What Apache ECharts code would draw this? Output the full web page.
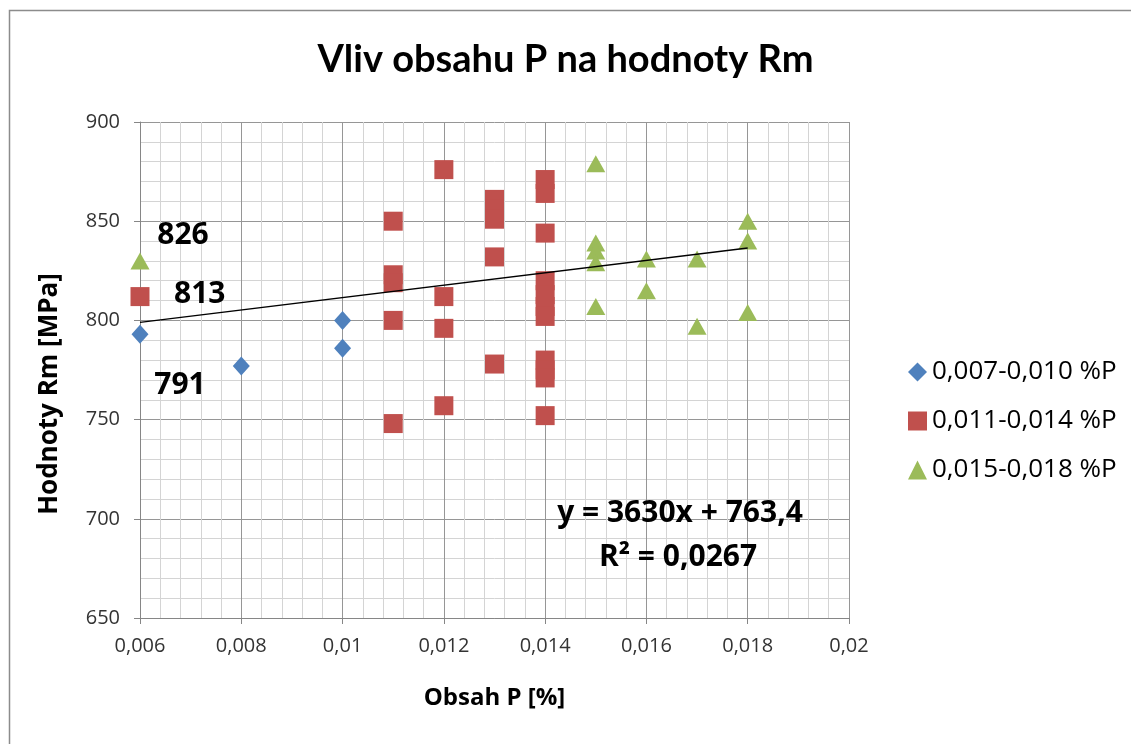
<!DOCTYPE html>
<html>
<head>
<meta charset="utf-8">
<script src="https://cdn.jsdelivr.net/npm/echarts@6/dist/echarts.min.js"></script>
<style>
  html, body { margin: 0; padding: 0; background: #fff; }
  #chart { width: 1131px; height: 744px; }
</style>
</head>
<body>
<div id="chart"></div>
<script>
// data
const blueX = [0.006, 0.008, 0.01, 0.01];
const blueY = [793, 777, 800, 786];

const redX = [0.006, 0.011, 0.011, 0.011, 0.011, 0.011, 0.012, 0.012, 0.012, 0.012,
  0.013, 0.013, 0.013, 0.013, 0.013, 0.014, 0.014, 0.014, 0.014, 0.014, 0.014, 0.014,
  0.014, 0.014, 0.014, 0.014];
const redY = [812, 850, 823, 819, 800, 748, 876, 812, 796, 757,
  861, 856, 851, 832, 778, 871, 864, 844, 820, 813, 807, 802,
  780, 775, 771, 752];

const greenX = [0.006, 0.015, 0.015, 0.015, 0.015, 0.015, 0.016, 0.016, 0.017, 0.017, 0.018, 0.018, 0.018];
const greenY = [830, 879, 839, 835, 829, 807, 831, 815, 831, 797, 850, 840, 804];

const trendX = [0.006, 0.018];
const trendY = [799, 836.5];

const seriesNames = ['0,007-0,010 %P', '0,011-0,014 %P', '0,015-0,018 %P'];

// value labels near the left edge
const noteX = [0.00685, 0.00718, 0.00679];
const noteY = [843, 813, 767];
const noteText = ['826', '813', '791'];

const xTicks = { min: 0.006, max: 0.02, interval: 0.002 };
const yTicks = { min: 650, max: 900, interval: 50 };

const pairs = (xs, ys) => xs.map((x, i) => [x, ys[i]]);
const comma = v => String(+v.toFixed(4)).replace('.', ',');

let myChart = echarts.init(document.getElementById('chart'));
myChart.setOption({
  animation: false,
  title: {
    text: 'Vliv obsahu P na hodnoty Rm',
    left: 'center',
    top: 36,
    textStyle: { fontFamily: 'Lato', fontSize: 38, fontWeight: 'bold', color: '#000' }
  },
  grid: { left: 140, right: 282, top: 122, bottom: 126 },
  legend: {
    orient: 'vertical',
    left: 903,
    top: 354,
    itemGap: 23,
    itemWidth: 19,
    itemHeight: 19,
    textStyle: { fontFamily: 'Open Sans', fontSize: 26, color: '#000' },
    data: seriesNames
  },
  xAxis: {
    type: 'value',
    min: xTicks.min,
    max: xTicks.max,
    interval: xTicks.interval,
    name: 'Obsah P [%]',
    nameLocation: 'middle',
    nameGap: 68,
    nameTextStyle: { fontFamily: 'Open Sans', fontSize: 24, fontWeight: 'bold', color: '#000' },
    axisLine: { show: true, lineStyle: { color: '#868686' } },
    axisTick: { show: true, length: 6, lineStyle: { color: '#868686' } },
    axisLabel: { formatter: comma, fontFamily: 'Open Sans', fontSize: 20, color: '#333', margin: 18 },
    splitLine: { lineStyle: { color: '#969696' } },
    minorTick: { show: false, splitNumber: 5 },
    minorSplitLine: { show: true, lineStyle: { color: '#d4d4d4' } }
  },
  yAxis: {
    type: 'value',
    min: yTicks.min,
    max: yTicks.max,
    interval: yTicks.interval,
    axisLine: { show: true, lineStyle: { color: '#868686' } },
    axisTick: { show: true, length: 6, lineStyle: { color: '#868686' } },
    axisLabel: { fontFamily: 'Open Sans', fontSize: 20, color: '#333', margin: 20 },
    splitLine: { lineStyle: { color: '#969696' } },
    minorTick: { show: false, splitNumber: 5 },
    minorSplitLine: { show: true, lineStyle: { color: '#d4d4d4' } }
  },
  series: [
    {
      name: seriesNames[0],
      type: 'scatter',
      symbol: 'diamond',
      symbolSize: [17, 19],
      itemStyle: { color: '#4f81bd', opacity: 1 },
      data: pairs(blueX, blueY),
      z: 3
    },
    {
      name: seriesNames[1],
      type: 'scatter',
      symbol: 'rect',
      symbolSize: 19,
      itemStyle: { color: '#c0504d', opacity: 1 },
      data: pairs(redX, redY),
      z: 3
    },
    {
      name: seriesNames[2],
      type: 'scatter',
      symbol: 'triangle',
      symbolSize: [19, 17],
      itemStyle: { color: '#9bbb59', opacity: 1 },
      data: pairs(greenX, greenY),
      z: 3
    },
    {
      name: 'trend',
      type: 'line',
      symbol: 'none',
      lineStyle: { color: '#000', width: 1.3 },
      data: pairs(trendX, trendY),
      z: 4
    },
    {
      name: 'notes',
      type: 'scatter',
      symbolSize: 0,
      itemStyle: { opacity: 1 },
      data: noteX.map((x, i) => ({ value: [x, noteY[i]], name: noteText[i] })),
      label: {
        show: true,
        position: 'inside',
        formatter: p => p.name,
        fontFamily: 'Open Sans',
        fontSize: 30,
        fontWeight: 'bold',
        color: '#000'
      },
      z: 5
    }
  ],
  graphic: [
    {
      type: 'rect',
      z: 10,
      shape: { x: 9.5, y: 10.5, width: 1140, height: 760 },
      style: { fill: 'none', stroke: '#8c8c8c', lineWidth: 1.5 },
      silent: true
    },
    {
      type: 'text',
      z: 10,
      x: 50,
      y: 394,
      rotation: Math.PI / 2,
      style: {
        text: 'Hodnoty Rm [MPa]', align: 'center', verticalAlign: 'middle',
        fontFamily: 'Open Sans', fontSize: 26, fontWeight: 'bold', fill: '#000'
      }
    },
    {
      type: 'text',
      z: 10,
      x: 680,
      y: 513,
      style: {
        text: 'y = 3630x + 763,4', align: 'center', verticalAlign: 'middle',
        fontFamily: 'Open Sans', fontSize: 30, fontWeight: 'bold', fill: '#000'
      }
    },
    {
      type: 'text',
      z: 10,
      x: 678,
      y: 557,
      style: {
        text: 'R² = 0,0267', align: 'center', verticalAlign: 'middle',
        fontFamily: 'Open Sans', fontSize: 30, fontWeight: 'bold', fill: '#000'
      }
    }
  ]
});
</script>
</body>
</html>
